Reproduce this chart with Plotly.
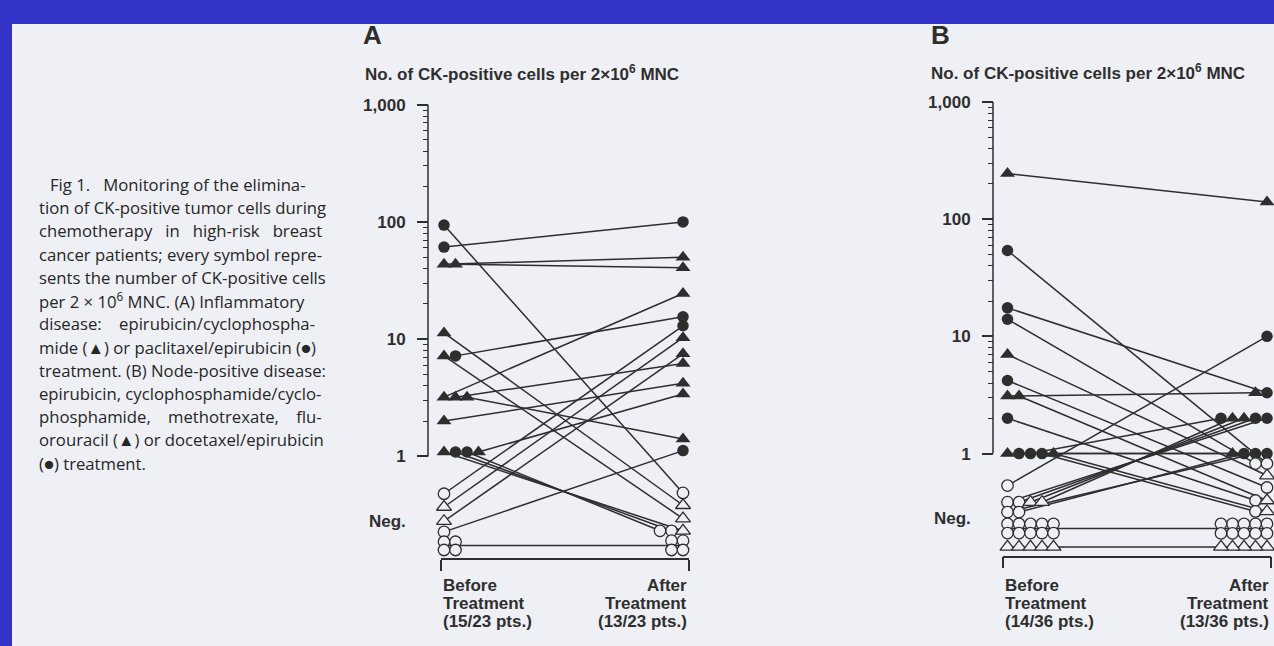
import numpy as np
import plotly.graph_objects as go

W, H = 1274, 646

# ---------------------------------------------------------------- data
# CK-positive cells per 2x10^6 MNC. Values below 1 are "Neg." symbols,
# given at the height at which they are drawn inside the Neg. band.
# Symbols: "t" = epirubicin/cyclophosphamide (triangle), "c" = taxane/epirubicin (circle)

# Panel A - inflammatory disease
A_before_vals = [94, 61, 43.5, 43.5, 11.3, 7.2, 7.2, 3.2, 3.2, 3.2, 2.0,
                 1.09, 1.09, 1.09, 1.09,
                 0.48, 0.37, 0.28, 0.227, 0.187, 0.187, 0.159, 0.159]
A_before_sym = ["c", "c", "t", "t", "t", "t", "c", "t", "t", "t", "t",
                "t", "c", "c", "t",
                "c", "t", "t", "c", "c", "c", "c", "c"]
A_after_vals = [100, 50, 40.7, 24.5, 15.5, 13.0, 10.3, 7.5, 6.2, 4.2, 3.4, 1.41, 1.12,
                0.488, 0.383, 0.295, 0.232, 0.232, 0.232, 0.191, 0.191, 0.159, 0.159]
A_after_sym = ["c", "t", "t", "t", "c", "c", "t", "t", "t", "t", "t", "t", "c",
               "c", "t", "t", "t", "c", "c", "c", "c", "c", "c"]
# after-treatment index of each before-treatment patient
A_pair = [13, 0, 1, 2, 14, 15, 4, 3, 8, 11, 9, 16, 17, 18, 10, 5, 6, 7, 12, 19, 20, 21, 22]

# Panel B - node-positive disease
B_before_vals = [245, 54, 17.5, 14, 7.0, 4.2, 3.1, 3.1, 2.0,
                 1.0, 1.0, 1.0, 1.0, 1.0,
                 0.534, 0.385, 0.385, 0.385, 0.385, 0.317, 0.317,
                 0.252, 0.252, 0.252, 0.252, 0.252,
                 0.210, 0.210, 0.210, 0.210, 0.210,
                 0.160, 0.160, 0.160, 0.160, 0.160]
B_before_sym = ["t", "c", "c", "c", "t", "c", "t", "t", "c",
                "t", "c", "c", "c", "t",
                "c", "c", "c", "t", "t", "c", "c",
                "c", "c", "c", "c", "c",
                "c", "c", "c", "c", "c",
                "t", "t", "t", "t", "t"]
B_after_vals = [140, 10, 3.3, 3.3, 2.0, 2.0, 2.0, 2.0, 2.0, 1.0, 1.0, 1.0, 1.0,
                0.822, 0.822, 0.650, 0.514, 0.398, 0.398, 0.321, 0.321,
                0.252, 0.252, 0.252, 0.252, 0.252,
                0.209, 0.209, 0.209, 0.209, 0.209,
                0.160, 0.160, 0.160, 0.160, 0.160]
B_after_sym = ["t", "c", "c", "t", "c", "c", "t", "t", "c", "c", "c", "c", "t",
               "c", "c", "t", "c", "t", "c", "t", "c",
               "c", "c", "c", "c", "c",
               "c", "c", "c", "c", "c",
               "t", "t", "t", "t", "t"]
B_pair = [0, 13, 2, 14, 15, 16, 3, 17, 18, 12, 9, 8, 20, 19,
          1, 4, 5, 6, 7, 10, 11,
          21, 22, 23, 24, 25, 26, 27, 28, 29, 30, 31, 32, 33, 34, 35]

Y_TICKS = [1, 10, 100, 1000]
Y_TICKTEXT = ["1", "10", "100", "1,000"]
Y_MINOR = [m * d for d in (1, 10, 100) for m in range(2, 10)]
NEG_LABEL_LEVEL = 0.28

AXIS_TITLE = "No. of CK-positive cells per 2\u00d710<sup>6</sup> MNC"
A_labels = [["Before", "Treatment", "(15/23 pts.)"], ["After", "Treatment", "(13/23 pts.)"]]
B_labels = [["Before", "Treatment", "(14/36 pts.)"], ["After", "Treatment", "(13/36 pts.)"]]

CAPTION = [
    "Fig 1.   Monitoring of the elimina-",
    "tion of CK-positive tumor cells during",
    "chemotherapy   in   high-risk   breast",
    "cancer patients; every symbol repre-",
    "sents the number of CK-positive cells",
    "per 2 \u00d7 10<sup>6</sup> MNC. (A) Inflammatory",
    "disease:    epirubicin/cyclophospha-",
    "mide (\u25b2) or paclitaxel/epirubicin (\u25cf)",
    "treatment. (B) Node-positive disease:",
    "epirubicin, cyclophosphamide/cyclo-",
    "phosphamide,    methotrexate,    flu-",
    "orouracil (\u25b2) or docetaxel/epirubicin",
    "(\u25cf) treatment.",
]

# ---------------------------------------------------------------- style
INK = "#2e2e2e"
PAGE = "#eef0f6"
BLUE = "#3333c8"
TXT_FONT = "Liberation Sans, Arial, sans-serif"
CAP_FONT = "Open Sans, Lato, sans-serif"
TXT_SIZE = 17

DECADE = 117.6          # px per decade
LOG_TOP, LOG_BOT = 3.06, -0.87
STEP_PX = 11.5          # spacing of side-by-side symbols


def fx(px):
    return px / W


def fy(py):
    return 1 - py / H


panels = [
    dict(name="A", xa="x", ya="y", before=(A_before_vals, A_before_sym),
         after=(A_after_vals, A_after_sym), pair=A_pair, labels=A_labels,
         x0px=444, x1px=683, dom=(441, 689), yaxis_px=428, top1000=103,
         letter_px=(361, 33), title_px=(363, 71)),
    dict(name="B", xa="x2", ya="y2", before=(B_before_vals, B_before_sym),
         after=(B_after_vals, B_after_sym), pair=B_pair, labels=B_labels,
         x0px=1007.5, x1px=1267, dom=(1003, 1271), yaxis_px=993, top1000=100.2,
         letter_px=(929, 33), title_px=(929, 70)),
]


def stack_x(vals, base, direction, step):
    seen = {}
    xs = []
    for v in vals:
        k = seen.get(v, 0)
        seen[v] = k + 1
        xs.append(base + direction * k * step)
    return xs


def txt(size=TXT_SIZE):
    return dict(family=TXT_FONT, size=size, color=INK, weight="bold")


fig = go.Figure()
shapes = [dict(type="rect", xref="paper", yref="paper", x0=fx(12), x1=1.0, y0=0, y1=fy(22),
               fillcolor=PAGE, line=dict(width=0), layer="below")]
annotations = []
layout_axes = {}

for p in panels:
    bv, bs = p["before"]
    av, as_ = p["after"]
    scale = p["x1px"] - p["x0px"]
    step = STEP_PX / scale
    bx = stack_x(bv, 0.0, +1, step)
    ax_ = stack_x(av, 1.0, -1, step)

    # connecting lines
    lx, ly = [], []
    negneg = {}
    for i, j in enumerate(p["pair"]):
        if bv[i] < 1 and av[j] < 1:
            negneg.setdefault(bs[i], []).extend([bv[i], av[j]])
            continue
        lx += [bx[i], ax_[j], None]
        ly += [bv[i], av[j], None]
    for s, vals in negneg.items():
        ym = 10 ** np.mean(np.log10(vals))
        lx += [0.0, 1.0, None]
        ly += [ym, ym, None]
    fig.add_trace(go.Scatter(x=lx, y=ly, mode="lines", xaxis=p["xa"], yaxis=p["ya"],
                             line=dict(color=INK, width=1.5), hoverinfo="skip",
                             showlegend=False, cliponaxis=False))

    # symbols
    allx = bx + ax_
    ally = list(bv) + list(av)
    alls = list(bs) + list(as_)
    for sym, size in (("c", 11.5), ("t", 13)):
        for filled in (True, False):
            xs = [x for x, y, s in zip(allx, ally, alls) if s == sym and (y >= 1) == filled]
            ys = [y for x, y, s in zip(allx, ally, alls) if s == sym and (y >= 1) == filled]
            fig.add_trace(go.Scatter(
                x=xs, y=ys, mode="markers", xaxis=p["xa"], yaxis=p["ya"],
                marker=dict(symbol="circle" if sym == "c" else "triangle-up", size=size,
                            color=INK if filled else PAGE,
                            line=dict(color=INK, width=0 if filled else 1.3)),
                hoverinfo="skip", showlegend=False, cliponaxis=False))

    # axes geometry
    top_px = p["top1000"] - (LOG_TOP - 3) * DECADE
    bot_px = top_px + (LOG_TOP - LOG_BOT) * DECADE
    d0, d1 = p["dom"]
    xr = [(d0 - p["x0px"]) / scale, (d1 - p["x0px"]) / scale]
    xkey = "xaxis" if p["xa"] == "x" else "xaxis2"
    ykey = "yaxis" if p["ya"] == "y" else "yaxis2"
    layout_axes[xkey] = dict(domain=[fx(d0), fx(d1)], range=xr, anchor=p["ya"],
                             showgrid=False, zeroline=False, showline=True,
                             linecolor=INK, linewidth=1.5, ticks="outside",
                             tickvals=[xr[0] + 1e-4, xr[1] - 1e-4], ticklen=11,
                             tickwidth=1.5, tickcolor=INK, showticklabels=False,
                             fixedrange=True)
    layout_axes[ykey] = dict(type="log", range=[LOG_BOT, LOG_TOP],
                             domain=[fy(bot_px), fy(top_px)], anchor="free",
                             position=fx(p["yaxis_px"]), side="left",
                             showgrid=False, zeroline=False, showline=False,
                             tickmode="array", tickvals=Y_TICKS, ticktext=Y_TICKTEXT,
                             ticks="outside", ticklen=11, tickwidth=1.5, tickcolor=INK,
                             tickfont=txt(), ticklabelstandoff=8,
                             minor=dict(tickmode="array", tickvals=Y_MINOR, ticks="outside",
                                        ticklen=5, tickwidth=1.2, tickcolor=INK),
                             fixedrange=True)
    # axis line only spans 1 .. 1,000
    shapes.append(dict(type="line", xref="paper", yref=p["ya"],
                       x0=fx(p["yaxis_px"]), x1=fx(p["yaxis_px"]), y0=1, y1=1000,
                       line=dict(color=INK, width=1.5)))
    # Neg. label
    annotations.append(dict(text="Neg.", xref="paper", yref=p["ya"],
                            x=fx(p["yaxis_px"] - 20), y=np.log10(NEG_LABEL_LEVEL),
                            xanchor="right", yanchor="middle", showarrow=False,
                            font=txt()))
    # category labels, one line each
    for side, anchor in ((0, "left"), (1, "right")):
        for k, line in enumerate(p["labels"][side]):
            annotations.append(dict(text=line, xref=p["xa"], yref="paper",
                                    x=xr[side], y=fy(585 + 18 * k), xanchor=anchor,
                                    yanchor="middle", showarrow=False, font=txt()))
    # panel letter and axis title
    annotations.append(dict(text=p["name"], xref="paper", yref="paper",
                            x=fx(p["letter_px"][0]), y=fy(p["letter_px"][1]),
                            xanchor="left", yanchor="middle", showarrow=False,
                            font=txt(26)))
    annotations.append(dict(text=AXIS_TITLE, xref="paper", yref="paper",
                            x=fx(p["title_px"][0]), y=fy(p["title_px"][1]),
                            xanchor="left", yanchor="middle", showarrow=False,
                            font=txt()))

# caption block
for k, line in enumerate(CAPTION):
    annotations.append(dict(text=line, xref="paper", yref="paper",
                            x=fx(48 if k == 0 else 37), y=fy(183 + 23.3 * k),
                            xanchor="left", yanchor="middle", showarrow=False,
                            font=dict(family=CAP_FONT, size=16.7, color="#262626",
                                      weight=500)))

fig.update_layout(
    width=W, height=H, margin=dict(l=0, r=0, t=0, b=0),
    paper_bgcolor=BLUE, plot_bgcolor="rgba(0,0,0,0)",
    shapes=shapes, annotations=annotations, showlegend=False, hovermode=False,
    **layout_axes,
)

fig.write_html("out.html", config={"displayModeBar": False},
               post_script="document.body.style.margin='0';"
                           "document.body.style.overflow='hidden';")
